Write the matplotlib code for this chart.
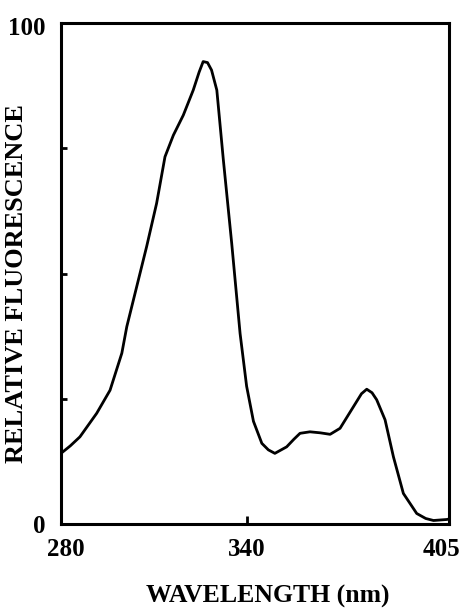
#fluorescence_spectrum.py

import numpy as np
from matplotlib import pyplot as plt
from matplotlib import transforms

# emission spectrum
wavelength = np.array([280.0, 283.0, 286.1, 291.5, 295.8, 299.6, 301.2, 304.4,
                       307.6, 310.8, 313.5, 316.2, 319.4, 322.6, 324.5, 325.8,
                       327.2, 328.5, 330.2, 332.3, 335.0, 337.7, 339.8, 342.0,
                       344.7, 346.8, 348.9, 352.7, 355.0, 357.0, 360.2, 363.5,
                       366.7, 369.9, 374.2, 376.8, 378.5, 380.2, 381.7, 384.4,
                       387.1, 390.3, 394.6, 397.5, 400.0, 404.3, 405.0])
fluorescence = np.array([14.1, 15.6, 17.4, 22.1, 26.7, 34.1, 39.4, 47.4,
                         55.4, 64.0, 73.3, 77.6, 81.6, 86.6, 90.2, 92.3,
                         92.1, 90.6, 86.6, 72.7, 56.0, 38.0, 27.5, 20.5,
                         16.1, 14.8, 14.1, 15.4, 16.9, 18.1, 18.4, 18.2,
                         17.9, 19.1, 23.4, 26.0, 26.9, 26.2, 24.8, 20.8,
                         13.4, 6.1, 2.1, 1.1, 0.7, 0.9, 1.0])

x_ticks = [280, 340, 405]
x_ticklabels = ['280', '340', '405']
y_ticks = [0, 25, 50, 75, 100]
y_ticklabels = ['0', '', '', '', '100']

plt.rcParams['font.family'] = ['Liberation Serif', 'DejaVu Serif']
plt.rcParams['font.weight'] = 'bold'

fig = plt.figure(figsize=(4.64, 6.11), dpi=100)
ax = fig.add_axes([61/464, 1 - 524/611, 388/464, 501/611])

ax.plot(wavelength, fluorescence, color='black', linewidth=2.0,
        solid_joinstyle='round')

ax.set_xlim(280, 405)
ax.set_ylim(0, 100)
for s in ax.spines.values():
    s.set_linewidth(2.2)

ax.set_xticks(x_ticks)
ax.set_xticklabels(x_ticklabels, fontsize=18, fontweight='bold')
ax.set_yticks(y_ticks)
ax.set_yticklabels(y_ticklabels, fontsize=18, fontweight='bold')
ax.tick_params(axis='x', direction='in', length=6, width=2, pad=10)
ax.tick_params(axis='y', direction='in', length=4.5, width=2, pad=11)

# nudge the end labels in like the original
xl = ax.get_xticklabels()
xl[0].set_transform(xl[0].get_transform() + transforms.ScaledTranslation(5/100, 0, fig.dpi_scale_trans))
xl[2].set_transform(xl[2].get_transform() + transforms.ScaledTranslation(-8/100, 0, fig.dpi_scale_trans))
yl = ax.get_yticklabels()
yl[4].set_transform(yl[4].get_transform() + transforms.ScaledTranslation(0, -3/100, fig.dpi_scale_trans))

fig.text(268/464, 1 - 596/611, 'WAVELENGTH (nm)', fontsize=18.5, fontweight='bold',
         ha='center', va='center')
fig.text(17/464, 1 - 284/611, 'RELATIVE FLUORESCENCE', fontsize=19, fontweight='bold',
         ha='center', va='center', rotation=90)

fig.savefig('out.png', dpi=100)
